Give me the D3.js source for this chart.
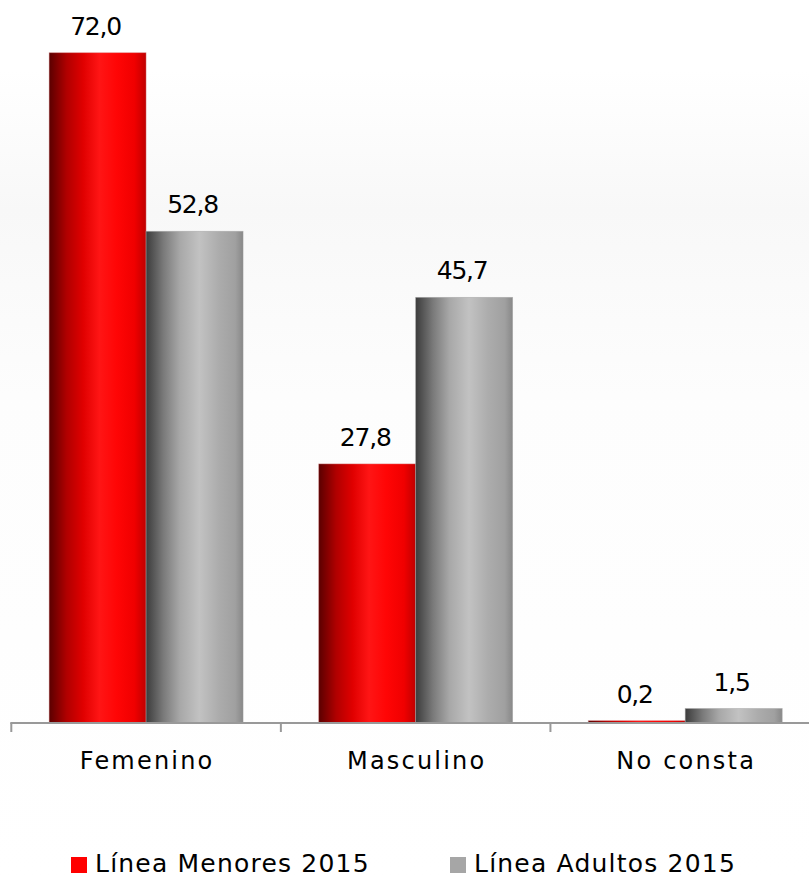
<!DOCTYPE html>
<html>
<head>
<meta charset="utf-8">
<script src="https://cdn.jsdelivr.net/npm/d3@7"></script>
<style>
  html, body { margin: 0; padding: 0; background: #fff; }
  svg { display: block; }
  text { font-family: "DejaVu Sans", sans-serif; fill: #000; }
</style>
</head>
<body>
<svg id="chart" width="809" height="878"></svg>
<script>
const categories = ["Femenino", "Masculino", "No consta"];
const seriesNames = ["Línea Menores 2015", "Línea Adultos 2015"];
const menores = [72.0, 27.8, 0.2];
const adultos = [52.8, 45.7, 1.5];
const valueLabels = [["72,0", "27,8", "0,2"], ["52,8", "45,7", "1,5"]];

const W = 809, H = 878;
const svg = d3.select("#chart");
const defs = svg.append("defs");

// background gradient
const bg = defs.append("linearGradient").attr("id", "bg").attr("x1", 0).attr("y1", 0).attr("x2", 0).attr("y2", 1);
bg.append("stop").attr("offset", "0%").attr("stop-color", "#ffffff");
bg.append("stop").attr("offset", "8%").attr("stop-color", "#ffffff");
bg.append("stop").attr("offset", "24%").attr("stop-color", "#f8f8f8");
bg.append("stop").attr("offset", "45%").attr("stop-color", "#fdfdfd");
bg.append("stop").attr("offset", "100%").attr("stop-color", "#ffffff");
svg.append("rect").attr("x", 0).attr("y", 0).attr("width", W).attr("height", H).attr("fill", "url(#bg)");

const redG = defs.append("linearGradient").attr("id", "gRed").attr("x1", 0).attr("x2", 1).attr("y1", 0).attr("y2", 0);
[["0%", "#5a0000"], ["18%", "#b00000"], ["35%", "#e00000"], ["52%", "#ff1515"], ["70%", "#ff0505"], ["88%", "#f00000"], ["100%", "#c00000"]]
  .forEach(([o, c]) => redG.append("stop").attr("offset", o).attr("stop-color", c));
const grayG = defs.append("linearGradient").attr("id", "gGray").attr("x1", 0).attr("x2", 1).attr("y1", 0).attr("y2", 0);
[["0%", "#3c3c3c"], ["18%", "#7a7a7a"], ["35%", "#a8a8a8"], ["55%", "#c2c2c2"], ["75%", "#acacac"], ["92%", "#a0a0a0"], ["100%", "#888888"]]
  .forEach(([o, c]) => grayG.append("stop").attr("offset", o).attr("stop-color", c));
const fills = ["url(#gRed)", "url(#gGray)"];
const legendFills = ["#ff0000", "#a6a6a6"];

const x0 = d3.scaleBand().domain(categories).range([11.3, 820]).paddingInner(0).paddingOuter(0);
const x1 = d3.scaleBand().domain([0, 1]).range([0, x0.bandwidth()]).paddingInner(0).paddingOuter(0.39);
const y = d3.scaleLinear().domain([0, 72]).range([722.5, 52.7]);

const seriesValues = [menores, adultos];

const g = svg.append("g");
seriesValues.forEach((vals, si) => {
  g.selectAll(".bar" + si).data(vals).enter().append("rect")
    .attr("x", (d, i) => x0(categories[i]) + x1(si))
    .attr("y", d => y(d))
    .attr("width", x1.bandwidth())
    .attr("height", d => y(0) - y(d))
    .attr("fill", fills[si])
    .attr("stroke", si === 0 ? "rgba(220,150,150,0.5)" : "rgba(160,160,160,0.6)")
    .attr("stroke-width", 0.8);
  g.selectAll(".lab" + si).data(vals).enter().append("text")
    .attr("x", (d, i) => x0(categories[i]) + x1(si) + x1.bandwidth() / 2 - 2)
    .attr("y", d => y(d) - 18)
    .attr("text-anchor", "middle")
    .attr("font-size", 25)
    .attr("letter-spacing", -1.2)
    .text((d, i) => valueLabels[si][i]);
});

// axis
const ax = svg.append("g").attr("transform", "translate(0,723)");
ax.append("line").attr("x1", 10.3).attr("x2", W).attr("y1", 0).attr("y2", 0).attr("stroke", "#999").attr("stroke-width", 2);
const tickPos = categories.map(c => x0(c)).concat([x0.range()[1]]);
ax.selectAll(".tk").data(tickPos).enter().append("line")
  .attr("x1", d => d).attr("x2", d => d).attr("y1", 0).attr("y2", 9)
  .attr("stroke", "#999").attr("stroke-width", 2);
ax.selectAll(".cat").data(categories).enter().append("text")
  .attr("x", d => x0(d) + x0.bandwidth() / 2 + 1)
  .attr("y", 45.5)
  .attr("text-anchor", "middle")
  .attr("font-size", 24)
  .attr("letter-spacing", 2.2)
  .text(d => d);

// legend
const legX = [71, 450];
const leg = svg.append("g");
seriesNames.forEach((n, i) => {
  leg.append("rect").attr("x", legX[i]).attr("y", 857).attr("width", 16).attr("height", 16).attr("fill", legendFills[i]);
  leg.append("text").attr("x", legX[i] + 24).attr("y", 872).attr("font-size", 25)
    .attr("letter-spacing", 1.2).text(n);
});
</script>
</body>
</html>
